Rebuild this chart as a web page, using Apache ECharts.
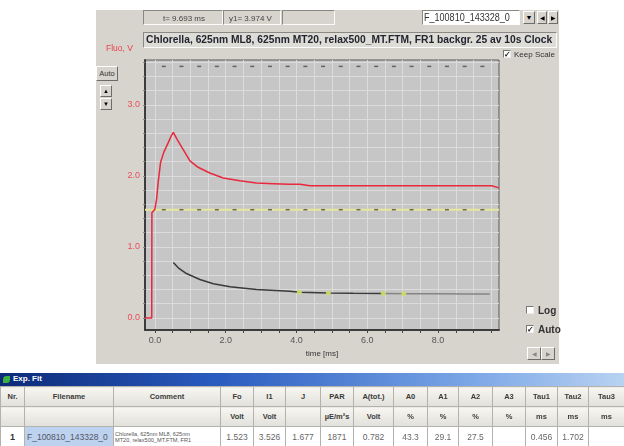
<!DOCTYPE html>
<html><head><meta charset="utf-8">
<script src="https://cdn.jsdelivr.net/npm/echarts@6/dist/echarts.min.js"></script>
<style>
html,body{margin:0;padding:0;background:#fff;width:624px;height:446px;overflow:hidden;font-family:"Liberation Sans",Arial,sans-serif;}
.abs{position:absolute;box-sizing:border-box;}
.panel{left:96px;top:10px;width:463px;height:354px;background:#d7d4cd;}
.sunken{border-top:1px solid #8a8884;border-left:1px solid #8a8884;border-bottom:1px solid #fbfbfa;border-right:1px solid #fbfbfa;}
.raised{border-top:1px solid #fff;border-left:1px solid #fff;border-bottom:1px solid #6e6c68;border-right:1px solid #6e6c68;background:#d7d4cd;text-align:center;}
.txt{white-space:nowrap;}
.cb{width:8px;height:8px;background:#fff;border-top:1px solid #777;border-left:1px solid #777;border-bottom:1px solid #eee;border-right:1px solid #eee;font-size:8px;line-height:7px;text-align:center;color:#111;font-weight:bold;}
table{border-collapse:collapse;table-layout:fixed;}
td{border:1px solid #b4b2ac;padding:0;text-align:center;overflow:hidden;white-space:nowrap;font-size:7.5px;}
tr.h td{background:linear-gradient(#f7f6f2,#e2e0da);font-weight:bold;color:#3a3a3a;height:19px;}
tr.d td{background:#fff;color:#666;height:19px;font-size:8.5px;}
</style></head>
<body>
<div class="abs panel"></div>
<div id="chart" class="abs" style="left:0;top:0;width:624px;height:372px;"></div>

<!-- top status boxes -->
<div class="abs sunken txt" style="left:143px;top:10px;width:80px;height:15px;font-size:8px;color:#444;padding:3px 0 0 19px;">t= 9.693 ms</div>
<div class="abs sunken txt" style="left:223px;top:10px;width:58px;height:15px;font-size:8px;color:#444;padding:3px 0 0 5px;">y1= 3.974 V</div>
<div class="abs sunken" style="left:282px;top:10px;width:53px;height:15px;"></div>
<div class="abs sunken" style="left:422px;top:10px;width:98px;height:15px;background:#fff;"></div>
<div id="dd" class="abs txt" style="left:424px;top:11px;font-size:10.5px;color:#333;transform-origin:0 0;">F_100810_143328_0</div>
<div class="abs raised" style="left:523px;top:11px;width:12px;height:13px;font-size:7px;line-height:12px;">&#9660;</div>
<div class="abs raised" style="left:537px;top:11px;width:10px;height:13px;font-size:6px;line-height:12px;">&#9664;</div>
<div class="abs raised" style="left:548px;top:11px;width:10px;height:13px;font-size:6px;line-height:12px;">&#9654;</div>
<!-- title -->
<div class="abs sunken" style="left:143px;top:32px;width:414px;height:16px;background:#dedcd6;"></div>
<div id="title" class="abs txt" style="left:146px;top:33px;font-size:11px;font-weight:bold;color:#222530;transform-origin:0 0;">Chlorella, 625nm ML8, 625nm MT20, relax500_MT.FTM, FR1 backgr. 25 av 10s Clock</div>
<div class="abs txt" style="left:106px;top:43px;font-size:8.5px;color:#e8404e;">Fluo, V</div>
<div class="abs cb" style="left:503px;top:50px;">&#10003;</div>
<div class="abs txt" style="left:514px;top:50px;font-size:8px;color:#333;">Keep Scale</div>
<!-- left buttons -->
<div class="abs raised txt" style="left:96px;top:66px;width:22px;height:15px;font-size:7.5px;line-height:13px;color:#333;">Auto</div>
<div class="abs raised" style="left:100px;top:85px;width:12px;height:12px;font-size:6px;line-height:11px;">&#9650;</div>
<div class="abs raised" style="left:100px;top:98px;width:12px;height:12px;font-size:6px;line-height:11px;">&#9660;</div>
<!-- right controls -->
<div class="abs cb" style="left:526px;top:306px;"></div>
<div class="abs txt" style="left:538px;top:305px;font-size:10px;font-weight:bold;color:#333;">Log</div>
<div class="abs cb" style="left:526px;top:325px;">&#10003;</div>
<div class="abs txt" style="left:538px;top:324px;font-size:10px;font-weight:bold;color:#333;">Auto</div>
<div class="abs raised" style="left:527px;top:347px;width:14px;height:13px;font-size:6px;line-height:12px;color:#888;">&#9664;</div>
<div class="abs raised" style="left:541px;top:347px;width:14px;height:13px;font-size:6px;line-height:12px;color:#888;">&#9654;</div>

<!-- table -->
<div class="abs" style="left:0;top:373px;width:624px;height:13px;background:linear-gradient(90deg,#0c2a78 0%,#2a5cc0 35%,#7aa6e6 75%,#b8d2f2 100%);"></div>
<div class="abs" style="left:3px;top:376px;width:7px;height:7px;background:#3cb040;border-radius:50% 0 50% 0;"></div>
<div class="abs txt" style="left:13px;top:374px;font-size:8px;font-weight:bold;color:#fff;">Exp. Fit</div>
<div class="abs" style="left:0;top:386px;width:624px;height:60px;overflow:hidden;background:#fff;">
<table id="tbl" style="width:624px;"></table>
</div>

<script>
// ---------- data ----------
const xLabelVals = [0, 2, 4, 6, 8];
const xTickVals = [0, 0.5, 1, 1.5, 2, 2.5, 3, 3.5, 4, 4.5, 5, 5.5, 6, 6.5, 7, 7.5, 8, 8.5, 9, 9.5];
const yLabelVals = [0, 1, 2, 3];
const yTickVals = [0, 0.2, 0.4, 0.6, 0.8, 1.0, 1.2, 1.4, 1.6, 1.8, 2.0, 2.2, 2.4, 2.6, 2.8, 3.0, 3.2, 3.4, 3.6];

const measuredT = [-0.28, -0.09, -0.085, 0.0, 0.05, 0.09, 0.16, 0.25, 0.38, 0.47, 0.52, 0.63, 0.80, 0.99, 1.22, 1.55, 1.93, 2.40, 2.87, 3.34, 3.81, 4.10, 4.38, 5.00, 6.36, 7.50, 8.24, 9.00, 9.51, 9.72];
const measuredV = [0.0, 0.0, 1.48, 1.53, 1.68, 1.90, 2.19, 2.33, 2.47, 2.57, 2.61, 2.51, 2.37, 2.21, 2.12, 2.04, 1.97, 1.93, 1.90, 1.89, 1.88, 1.88, 1.86, 1.86, 1.86, 1.86, 1.86, 1.86, 1.86, 1.83];

const fitT = [0.52, 0.66, 0.89, 1.27, 1.65, 2.12, 2.87, 3.81, 4.10, 4.90, 5.60, 6.45];
const fitV = [0.78, 0.705, 0.625, 0.54, 0.48, 0.44, 0.40, 0.375, 0.36, 0.352, 0.346, 0.342];
const fitTailT = [6.45, 7.20, 8.00, 8.80, 9.46];
const fitTailV = [0.342, 0.34, 0.34, 0.338, 0.338];

const markT = [4.08, 4.90, 6.45, 7.03];
const markV = [0.36, 0.352, 0.342, 0.341];

const dashT = [0.25, 0.75, 1.25, 1.75, 2.25, 2.75, 3.25, 3.75, 4.25, 4.75, 5.25, 5.75, 6.25, 6.75, 7.25, 7.75, 8.25, 8.75, 9.25];
const topDashV = 3.54;
const xRange = [-0.28, 9.72];
const yRange = [-0.17, 3.63];

// table
const colNames = ["Nr.", "Filename", "Comment", "Fo", "I1", "J", "PAR", "A(tot.)", "A0", "A1", "A2", "A3", "Tau1", "Tau2", "Tau3"];
const colUnits = ["", "", "", "Volt", "Volt", "", "µE/m²s", "Volt", "%", "%", "%", "%", "ms", "ms", "ms"];
const rowValues = ["1", "F_100810_143328_0", "Chlorella, 625nm ML8, 625nm|MT20, relax500_MT.FTM, FR1", "1.523", "3.526", "1.677", "1871", "0.782", "43.3", "29.1", "27.5", "", "0.456", "1.702", ""];
const colWidths = [24, 89, 107, 33, 32, 35, 33, 40, 34, 31, 34, 33, 32, 31, 36];
const Fo = 1.523;

// ---------- table build ----------
(function(){
  const tbl = document.getElementById('tbl');
  let cg = '<colgroup>' + colWidths.map(w => '<col style="width:' + w + 'px">').join('') + '</colgroup>';
  let h1 = '<tr class="h">' + colNames.map(n => '<td>' + n + '</td>').join('') + '</tr>';
  let h2 = '<tr class="h">' + colUnits.map(n => '<td>' + n + '</td>').join('') + '</tr>';
  let d = '<tr class="d">' + rowValues.map((v, i) => {
    if (i === 0) return '<td style="font-weight:bold;color:#333;font-size:9px;">' + v + '</td>';
    if (i === 1) return '<td style="background:#bcd2ef;color:#556;text-align:left;padding-left:2px;font-size:8.5px;">' + v + '</td>';
    if (i === 2) return '<td style="text-align:left;font-size:5.6px;line-height:6px;color:#555;padding-left:1px;">' + v.split('|').join('<br>') + '</td>';
    return '<td>' + v + '</td>';
  }).join('') + '</tr>';
  tbl.innerHTML = cg + h1 + h2 + d;
  const fit = (id, target) => { const el = document.getElementById(id); el.style.transform = 'scaleX(' + (target / el.scrollWidth) + ')'; };
  fit('title', 406);
  fit('dd', 86);
})();

// ---------- chart ----------
const zip = (a, b) => a.map((v, i) => [v, b[i]]);
const chart = echarts.init(document.getElementById('chart'), null, {renderer: 'canvas'});
chart.setOption({
  animation: false,
  backgroundColor: 'transparent',
  grid: {left: 145, top: 60, width: 354, height: 270, show: true, backgroundColor: '#c6c6c6', borderColor: '#5a5a5a', borderWidth: 1},
  xAxis: {
    type: 'value', min: xRange[0], max: xRange[1],
    axisLine: {show: true, onZero: false, lineStyle: {color: '#3c3c3c', width: 2}},
    axisTick: {show: true, customValues: xTickVals, length: 3, lineStyle: {color: '#444'}},
    axisLabel: {customValues: xLabelVals, formatter: v => v.toFixed(1), color: '#555', fontSize: 9, margin: 6, fontFamily: 'Liberation Sans'},
    splitLine: {show: true, lineStyle: {color: '#dcdcdc', width: 1}},
    name: 'time [ms]', nameLocation: 'middle', nameGap: 18,
    nameTextStyle: {color: '#333', fontSize: 8, fontFamily: 'Liberation Sans'}
  },
  yAxis: {
    type: 'value', min: yRange[0], max: yRange[1],
    axisLine: {show: true, onZero: false, lineStyle: {color: '#3c3c3c', width: 2}},
    axisTick: {show: true, customValues: yTickVals, length: 2, lineStyle: {color: '#8a8a8a'}},
    axisLabel: {customValues: yLabelVals, formatter: v => v.toFixed(1), color: '#e8505c', fontSize: 9, margin: 5, fontFamily: 'Liberation Sans'},
    splitLine: {show: true, lineStyle: {color: '#dcdcdc', width: 1}}
  },
  series: [
    {type: 'line', data: [[xRange[0], Fo], [xRange[1], Fo]], showSymbol: false, lineStyle: {color: '#e6e69c', width: 2}, z: 2},
    {type: 'scatter', data: dashT.map(t => [t, Fo]), symbol: 'rect', symbolSize: [4, 1.5], itemStyle: {color: '#4a4a4a'}, z: 3},
    {type: 'scatter', data: dashT.map(t => [t, topDashV]), symbol: 'rect', symbolSize: [4, 1.5], itemStyle: {color: '#4a4a4a'}, z: 3},
    {type: 'line', data: zip(measuredT, measuredV), showSymbol: false, lineStyle: {color: '#e8283c', width: 1.5}, z: 4},
    {type: 'line', data: zip(fitT, fitV), showSymbol: false, lineStyle: {color: '#3a3a3a', width: 1.5}, z: 4},
    {type: 'line', data: zip(fitTailT, fitTailV), showSymbol: false, lineStyle: {color: '#858585', width: 1.5}, z: 4},
    {type: 'scatter', data: zip(markT, markV), symbol: 'circle', symbolSize: 5, itemStyle: {color: '#cfdc6a', opacity: 0.9}, z: 5}
  ]
});
</script>
</body></html>
